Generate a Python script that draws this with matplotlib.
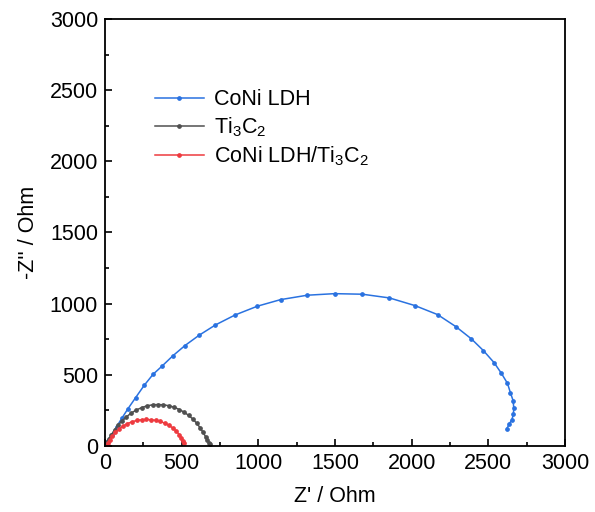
import matplotlib
matplotlib.use("Agg")
import matplotlib.pyplot as plt
from matplotlib.ticker import MultipleLocator

plt.rcParams['font.family'] = ['Liberation Sans', 'DejaVu Sans']
plt.rcParams['mathtext.default'] = 'regular'

# CoNi LDH
coni_x = [5, 20, 45, 75, 110, 150, 200, 255, 314, 373, 441, 521, 614, 720, 848, 994,
          1145, 1319, 1497, 1679, 1855, 2022, 2169, 2289, 2390, 2468, 2538, 2585,
          2625, 2644, 2662, 2666, 2664, 2653, 2637, 2620]
coni_y = [5, 35, 80, 135, 195, 262, 340, 425, 504, 562, 632, 705, 778, 850, 920, 982,
          1028, 1059, 1070, 1066, 1040, 986, 923, 838, 752, 670, 585, 511,
          440, 375, 318, 269, 222, 183, 155, 119]

# Ti3C2
ti_x = [3, 12, 25, 42, 62, 85, 110, 140, 172, 205, 240, 275, 310, 345, 380, 415,
        450, 485, 515, 545, 572, 598, 620, 640, 656, 668, 678, 684]
ti_y = [5, 25, 50, 80, 112, 145, 175, 205, 232, 253, 270, 282, 289, 291, 289, 283,
        272, 256, 238, 215, 190, 160, 128, 95, 65, 42, 24, 12]

# CoNi LDH/Ti3C2
comp_x = [12, 20, 32, 48, 68, 92, 118, 146, 176, 207, 238, 270, 300, 330, 360, 390,
          418, 444, 466, 484, 498, 509, 517]
comp_y = [3, 22, 45, 70, 96, 120, 140, 157, 170, 179, 184, 186, 184, 180, 172, 160,
          144, 125, 103, 80, 58, 38, 20]

fig = plt.figure(figsize=(5.95, 5.12), dpi=100)
ax = fig.add_axes([0.1765, 0.129, 0.773, 0.834])

ax.plot(coni_x, coni_y, '-o', color='#2a72e0', lw=1.1, ms=2.4, label='CoNi LDH')
ax.plot(ti_x, ti_y, '-o', color='#505050', lw=1.1, ms=2.4, label='Ti$_3$C$_2$')
ax.plot(comp_x, comp_y, '-o', color='#ee3a3f', lw=1.1, ms=2.4, label='CoNi LDH/Ti$_3$C$_2$')

ax.set_xlim(0, 3000)
ax.set_ylim(0, 3000)
ax.xaxis.set_major_locator(MultipleLocator(500))
ax.yaxis.set_major_locator(MultipleLocator(500))
ax.xaxis.set_minor_locator(MultipleLocator(250))
ax.yaxis.set_minor_locator(MultipleLocator(250))
ax.tick_params(which='both', direction='in', labelsize=15.5, width=1.2, pad=5)
ax.tick_params(which='major', length=5)
ax.tick_params(which='minor', length=3)
for s in ax.spines.values():
    s.set_linewidth(1.3)

ax.set_xlabel("Z' / Ohm", fontsize=15.5, labelpad=9)
ax.set_ylabel("-Z'' / Ohm", fontsize=15.5, labelpad=8)

ax.legend(loc='upper left', bbox_to_anchor=(0.089, 0.855), borderaxespad=0,
          frameon=False, fontsize=15.5, handlelength=2.3, handletextpad=0.45,
          labelspacing=0.25)

fig.savefig("out.png", dpi=100)
